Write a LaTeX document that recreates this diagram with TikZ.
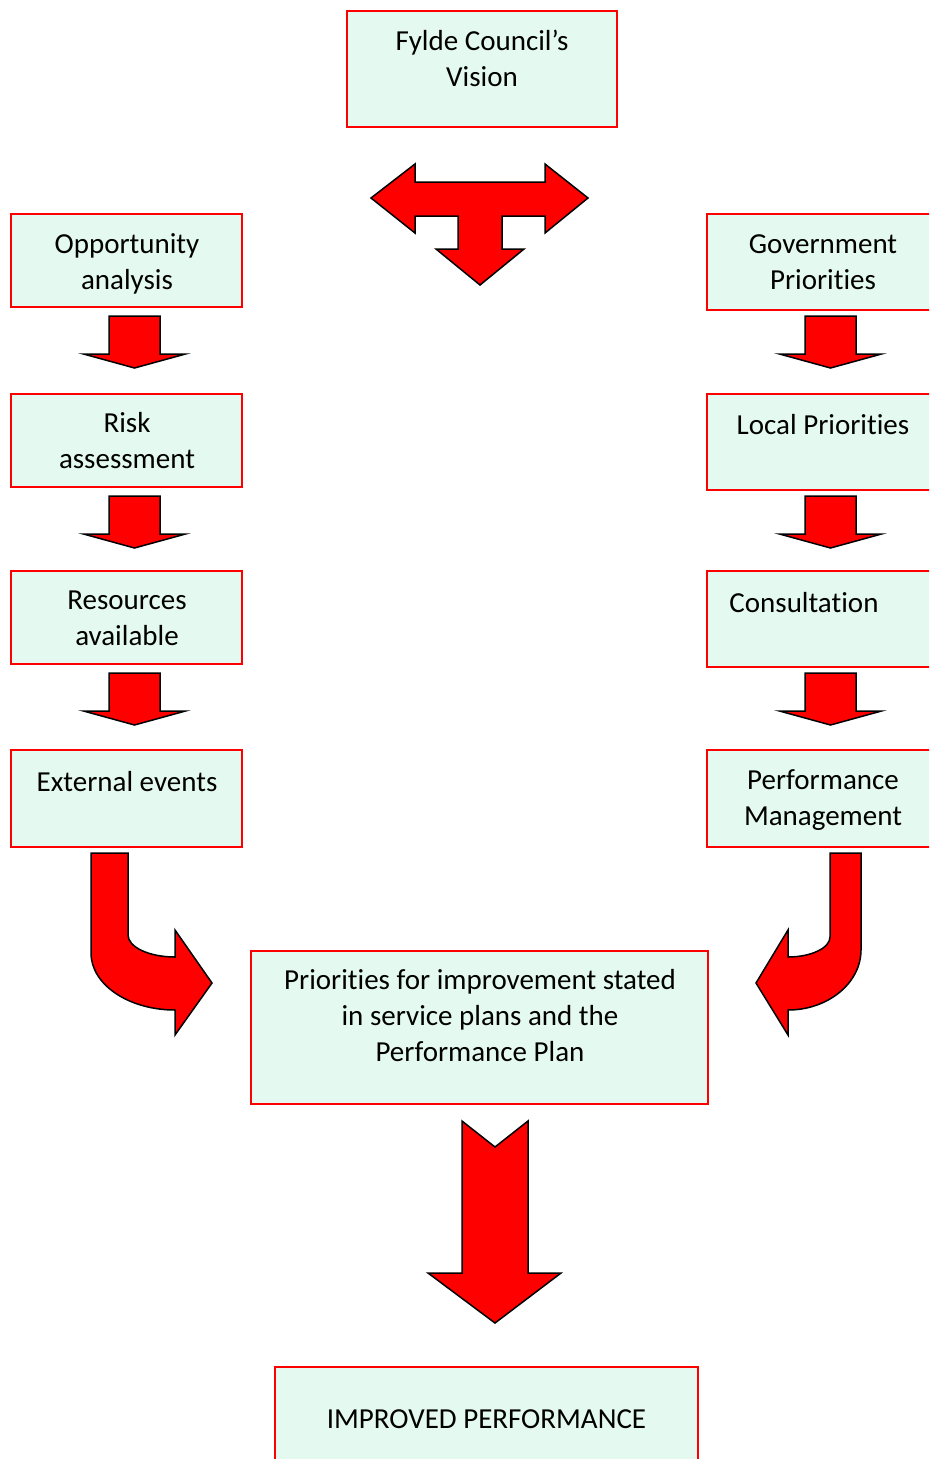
\documentclass[tikz,border=0pt]{standalone}
\usepackage{fontspec}
\setmainfont{Carlito}[Ligatures=NoCommon]
\definecolor{boxfill}{RGB}{228,250,240}
\definecolor{boxline}{RGB}{255,0,0}
\definecolor{arrowfill}{RGB}{255,0,0}
\begin{document}
\begin{tikzpicture}[x=1pt,y=-1pt,
  box/.style={draw=boxline, fill=boxfill, line width=2pt, inner sep=0pt, outer sep=0pt},
  txt/.style={font=\fontsize{29}{36}\selectfont, align=center, inner sep=0pt,
    execute at begin node=\strut, execute at end node=\strut},
  blockarrow/.style={fill=arrowfill, draw=black, line width=1.5pt, line join=miter}]
\useasboundingbox (0,0) rectangle (929,1459);
\clip (0,0) rectangle (929,1459);

% boxes
\node[box, minimum width=270, minimum height=116] (vision) at (482,69) {};
\node[box, minimum width=231, minimum height=93] (opp) at (126.5,260.5) {};
\node[box, minimum width=231, minimum height=93] (risk) at (126.5,440.5) {};
\node[box, minimum width=231, minimum height=93] (res) at (126.5,617.5) {};
\node[box, minimum width=231, minimum height=97] (ext) at (126.5,798.5) {};
\node[box, minimum width=233, minimum height=96] (gov) at (823.5,262) {};
\node[box, minimum width=233, minimum height=96] (local) at (823.5,442) {};
\node[box, minimum width=233, minimum height=96] (consult) at (823.5,619) {};
\node[box, minimum width=233, minimum height=97] (perf) at (823.5,798.5) {};
\node[box, minimum width=457, minimum height=153] (prio) at (479.5,1027.5) {};
\node[box, minimum width=423, minimum height=120] (improved) at (486.5,1427) {};

% texts
\node[txt] (vision-t) at (482,64) {Fylde Council’s\\Vision};
\node[txt] (opp-t) at (127,267) {Opportunity\\analysis};
\node[txt] (risk-t) at (127,446) {Risk\\assessment};
\node[txt] (res-t) at (127,624) {Resources\\available};
\node[txt] (ext-t) at (127,784) {External events};
\node[txt] (gov-t) at (823,267) {Government\\Priorities};
\node[txt] (local-t) at (823,427) {Local Priorities};
\node[txt] (consult-t) at (804,605) {Consultation};
\node[txt] (perf-t) at (823,803) {Performance\\Management};
\node[txt] (prio-t) at (480,1021) {Priorities for improvement stated\\in service plans and the\\Performance Plan};
\node[txt] (improved-t) at (486.5,1421) {IMPROVED PERFORMANCE};

% T-shaped three-way arrow
\draw[blockarrow] (371,198) -- (415,164) -- (415,182) -- (545,182) -- (545,164)
  -- (588,198) -- (545,233) -- (545,216) -- (502,216) -- (502,249) -- (524,249)
  -- (480,285) -- (436,249) -- (458,249) -- (458,216) -- (415,216) -- (415,233) -- cycle;

% small down arrows
\foreach \cx/\t in {134.5/316, 134.5/496, 134.5/673, 830.5/316, 830.5/496, 830.5/673}{
  \draw[blockarrow] (\cx-25.5,\t) -- (\cx+25.5,\t) -- (\cx+25.5,\t+38) -- (\cx+51,\t+38)
    -- (\cx,\t+52) -- (\cx-51,\t+38) -- (\cx-25.5,\t+38) -- cycle;
}

% left curved arrow
\draw[blockarrow] (91,853) -- (91,953)
  .. controls (91,984.5) and (128.6,1010) .. (175,1010)
  -- (175,1035) -- (212,983) -- (175,930) -- (175,957)
  .. controls (149,957) and (128,947) .. (128,935)
  -- (128,853) -- cycle;

% right curved arrow
\draw[blockarrow] (861,853) -- (861,950)
  .. controls (861,983) and (828,1010) .. (788,1010)
  -- (788,1035) -- (756,983) -- (788,930) -- (788,957)
  .. controls (811,957) and (830,948) .. (830,937)
  -- (830,853) -- cycle;

% big down arrow
\draw[blockarrow] (462,1121) -- (495,1147) -- (528,1121) -- (528,1273) -- (561,1273)
  -- (495,1323) -- (428,1273) -- (462,1273) -- cycle;
\end{tikzpicture}
\end{document}
